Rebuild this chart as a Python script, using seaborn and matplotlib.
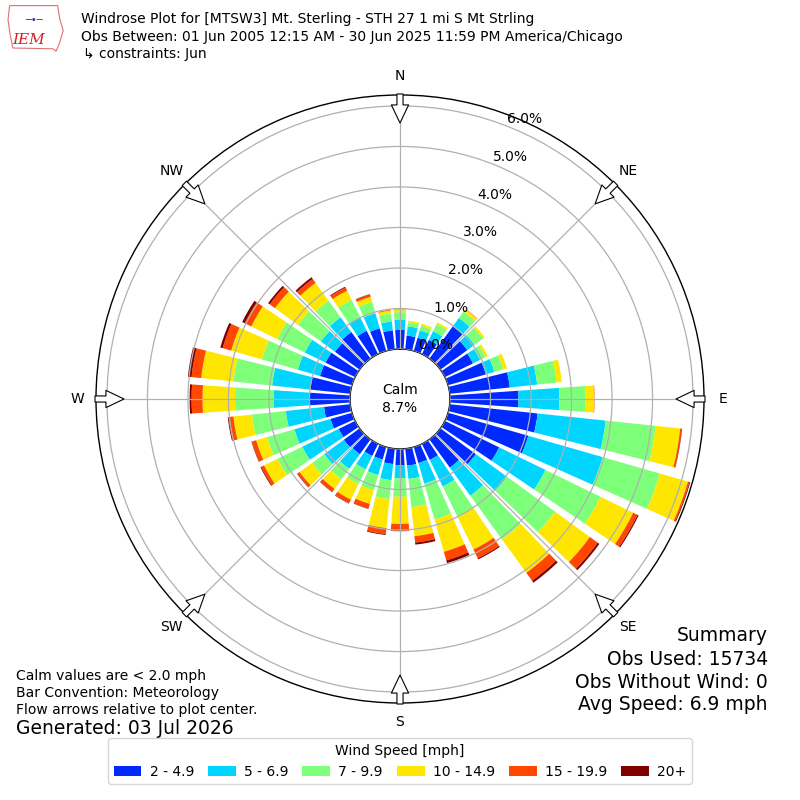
import numpy as np
import matplotlib
matplotlib.use("Agg")
import matplotlib.pyplot as plt
from matplotlib.patches import Patch, Polygon
import seaborn as sns

# ---------------- data ----------------
directions = list(range(0, 360, 10))
speed_bins = ["2 - 4.9", "5 - 6.9", "7 - 9.9", "10 - 14.9", "15 - 19.9", "20+"]

# percent frequency per direction (0,10,...,350 deg) for each speed bin
pct_2_5 = [0.47, 0.34, 0.34, 0.39, 0.98, 0.82, 0.77, 0.97, 1.49, 1.69, 2.18, 2.06,
           1.49, 1.08, 0.86, 0.44, 0.41, 0.42, 0.40, 0.38, 0.32, 0.33, 0.45, 0.48,
           0.45, 0.55, 0.65, 0.99, 0.99, 0.82, 0.81, 0.75, 0.81, 0.64, 0.58, 0.47]
pct_5_7 = [0.26, 0.23, 0.19, 0.24, 0.26, 0.22, 0.20, 0.22, 0.68, 1.01, 1.69, 1.91,
           1.27, 0.95, 0.86, 0.73, 0.53, 0.33, 0.32, 0.40, 0.40, 0.37, 0.45, 0.60,
           1.00, 0.93, 0.95, 0.90, 0.95, 0.57, 0.57, 0.43, 0.45, 0.38, 0.39, 0.22]
pct_7_10 = [0.18, 0.10, 0.12, 0.19, 0.20, 0.26, 0.15, 0.23, 0.48, 0.64, 1.24, 1.47,
            1.51, 1.47, 1.33, 0.83, 0.92, 0.70, 0.46, 0.47, 0.39, 0.40, 0.32, 0.37,
            0.68, 0.70, 0.84, 0.95, 0.96, 0.92, 0.76, 0.70, 0.51, 0.47, 0.29, 0.20]
pct_10_15 = [0.06, 0.04, 0.05, 0.05, 0.07, 0.05, 0.06, 0.09, 0.13, 0.22, 0.61, 0.72,
             0.90, 1.06, 1.02, 0.90, 0.83, 0.72, 0.67, 0.72, 0.35, 0.43, 0.29, 0.38,
             0.37, 0.28, 0.46, 0.80, 0.80, 0.79, 0.71, 0.70, 0.54, 0.25, 0.13, 0.07]
pct_15_20 = [0.01, 0.00, 0.00, 0.00, 0.01, 0.00, 0.00, 0.00, 0.00, 0.01, 0.04, 0.04,
             0.12, 0.24, 0.24, 0.24, 0.22, 0.16, 0.17, 0.15, 0.12, 0.10, 0.09, 0.07,
             0.08, 0.11, 0.12, 0.27, 0.24, 0.22, 0.18, 0.16, 0.12, 0.09, 0.06, 0.02]
pct_20_up = [0.00, 0.00, 0.00, 0.00, 0.00, 0.00, 0.00, 0.00, 0.00, 0.00, 0.01, 0.02,
             0.03, 0.05, 0.06, 0.03, 0.07, 0.05, 0.01, 0.02, 0.01, 0.01, 0.01, 0.01,
             0.02, 0.01, 0.02, 0.05, 0.09, 0.06, 0.07, 0.05, 0.05, 0.02, 0.01, 0.00]
series = [pct_2_5, pct_5_7, pct_7_10, pct_10_15, pct_15_20, pct_20_up]

ring_ticks = [0, 1, 2, 3, 4, 5, 6]
ring_labels = ["%.1f%%" % v for v in ring_ticks]
compass_deg = [0, 45, 90, 135, 180, 225, 270, 315]
compass_labels = ["N", "NE", "E", "SE", "S", "SW", "W", "NW"]
calm_pct = 8.7
r_max = 6.27

# ---------------- style ----------------
sns.set_style("white")
plt.rcParams["font.family"] = ["DejaVu Sans"]
plt.rcParams["text.color"] = "black"
plt.rcParams["xtick.color"] = "black"
plt.rcParams["ytick.color"] = "black"
plt.rcParams["axes.labelcolor"] = "black"
jet = plt.get_cmap("jet")
colors = sns.color_palette([jet((i + 1) / 6.0) for i in range(6)])

fig = plt.figure(figsize=(8, 8), dpi=100)
fig.patch.set_facecolor("white")
ax = fig.add_axes([0.12, 0.12125, 0.76, 0.76], projection="polar")
ax.set_theta_zero_location("N")
ax.set_theta_direction(-1)

theta = np.deg2rad(directions)
width = np.deg2rad(8)
bottom = np.zeros(len(directions))
for vals, col in zip(series, colors):
    v = np.array(vals)
    ax.bar(theta, v, width=width, bottom=bottom, color=col, edgecolor="none",
           linewidth=0, zorder=1)
    bottom = bottom + v

ax.set_ylim(0, r_max)
ax.set_rorigin(-r_max * 50.0 / 254.0)
ax.set_rgrids(ring_ticks, labels=ring_labels, angle=21.5, fontsize=10, color="black")
ax.set_thetagrids(compass_deg, labels=compass_labels, fontsize=10, color="black")
ax.tick_params(axis="x", pad=3, colors="black")
ax.tick_params(axis="y", colors="black")
ax.set_axisbelow(False)
ax.grid(True, color="#b0b0b0", linewidth=0.9)
for name in ("polar", "inner"):
    if name in ax.spines:
        ax.spines[name].set_color("black")
        ax.spines[name].set_linewidth(1.0)

# inward flow arrows at the compass points
tip_r = r_max * 226.0 / 254.0
tail_r = r_max * 255.0 / 254.0
for d in compass_deg:
    t = np.deg2rad(d)
    ax.annotate("", xy=(t, tip_r), xytext=(t, tail_r),
                arrowprops=dict(arrowstyle="simple,head_length=0.65,head_width=0.62,tail_width=0.22",
                                fc="white", ec="black", lw=0.8, shrinkA=0, shrinkB=0,
                                mutation_scale=20),
                annotation_clip=False, zorder=4)

ax.text(0.5, 0.5, "Calm\n%.1f%%" % calm_pct, transform=ax.transAxes,
        ha="center", va="center", fontsize=10, linespacing=1.3, zorder=5)

# ---------------- header ----------------
fig.text(0.101, 0.976, "Windrose Plot for [MTSW3] Mt. Sterling - STH 27 1 mi S Mt Strling",
         ha="left", va="center", fontsize=10)
fig.text(0.101, 0.954, "Obs Between: 01 Jun 2005 12:15 AM - 30 Jun 2025 11:59 PM America/Chicago",
         ha="left", va="center", fontsize=10)
fig.text(0.104, 0.932, "\u21b3 constraints: Jun", ha="left", va="center", fontsize=10)

# simple IEM logo (state outline + text)
logo_outline = Polygon([(0.012, 0.993), (0.072, 0.993), (0.075, 0.975), (0.079, 0.962),
                        (0.074, 0.945), (0.070, 0.936), (0.066, 0.939), (0.016, 0.940),
                        (0.013, 0.955), (0.010, 0.975)], closed=True, fill=False,
                       edgecolor="#e07070", linewidth=0.8, transform=fig.transFigure)
fig.add_artist(logo_outline)
fig.text(0.036, 0.950, "IEM", ha="center", va="center", fontsize=11, color="#d42020",
         fontstyle="italic", family="DejaVu Serif")
fig.text(0.042, 0.975, "\u2500\u2022\u2500", ha="center", va="center", fontsize=7,
         color="#2030c0")

# ---------------- footer ----------------
fig.text(0.02, 0.155, "Calm values are < 2.0 mph", ha="left", va="center", fontsize=10)
fig.text(0.02, 0.1337, "Bar Convention: Meteorology", ha="left", va="center", fontsize=10)
fig.text(0.02, 0.1125, "Flow arrows relative to plot center.", ha="left", va="center", fontsize=10)
fig.text(0.02, 0.089, "Generated: 03 Jul 2026", ha="left", va="center", fontsize=13.5)

fig.text(0.96, 0.206, "Summary", ha="right", va="center", fontsize=13.5)
fig.text(0.96, 0.176, "Obs Used: 15734", ha="right", va="center", fontsize=13.5)
fig.text(0.96, 0.1475, "Obs Without Wind: 0", ha="right", va="center", fontsize=13.5)
fig.text(0.96, 0.119, "Avg Speed: 6.9 mph", ha="right", va="center", fontsize=13.5)

handles = [Patch(facecolor=c, edgecolor="none", label=l) for c, l in zip(colors, speed_bins)]
fig.legend(handles=handles, title="Wind Speed [mph]", ncol=6, loc="lower center",
           bbox_to_anchor=(0.5, 0.011), fontsize=10, title_fontsize=10, frameon=True,
           edgecolor="#cccccc", columnspacing=1.0, handletextpad=0.6)

fig.savefig("out.png", dpi=100, facecolor="white")
